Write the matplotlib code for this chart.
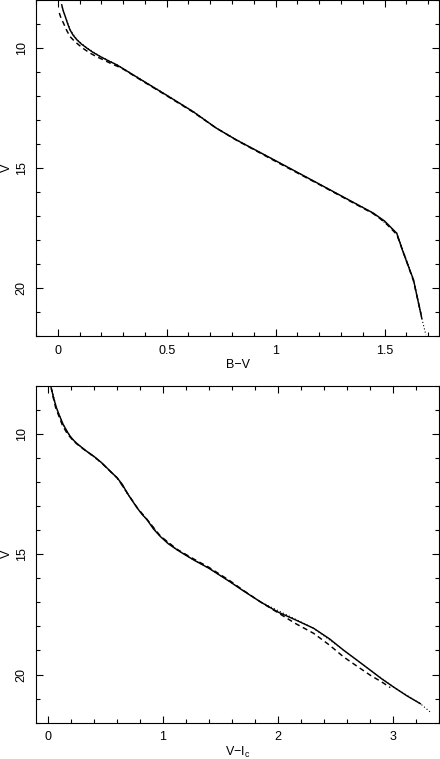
import matplotlib
matplotlib.use("Agg")
import matplotlib.pyplot as plt
from matplotlib.ticker import MultipleLocator

plt.rcParams['font.family'] = ['Liberation Sans', 'DejaVu Sans']

# ---- top panel: V vs B-V ----
bv_solid_x = [0.018, 0.025, 0.034, 0.045, 0.056, 0.07, 0.087, 0.108, 0.133, 0.16, 0.194,
              0.23, 0.271, 0.37, 0.497, 0.62, 0.727, 0.819, 1.0, 1.2, 1.449, 1.5,
              1.556, 1.587, 1.633, 1.671]
bv_solid_y = [8.2, 8.45, 8.68, 8.98, 9.24, 9.46, 9.65, 9.83, 10.0, 10.17, 10.35,
              10.52, 10.7, 11.25, 11.95, 12.64, 13.33, 13.82, 14.69, 15.66, 16.875, 17.2,
              17.71, 18.54, 19.65, 21.25]

bv_dash_x = [0.007, 0.015, 0.026, 0.04, 0.056, 0.075, 0.095, 0.12, 0.148, 0.178, 0.209,
             0.25, 0.294, 0.37, 0.497, 0.62, 0.727, 0.819, 1.0, 1.2, 1.449, 1.5, 1.556,
             1.59, 1.633, 1.668]
bv_dash_y = [8.54, 8.76, 8.96, 9.25, 9.52, 9.7, 9.86, 10.04, 10.21, 10.36, 10.49,
             10.67, 10.84, 11.27, 11.97, 12.66, 13.33, 13.83, 14.72, 15.68, 16.9, 17.24, 17.76,
             18.6, 19.7, 21.1]

bv_dot_x = [0.02, 0.034, 0.056, 0.087, 0.133, 0.194, 0.271, 0.37, 0.497, 0.62, 0.727,
            0.819, 1.0, 1.2, 1.449, 1.556, 1.633, 1.671, 1.69]
bv_dot_y = [8.3, 8.67, 9.23, 9.64, 9.99, 10.34, 10.69, 11.24, 11.94, 12.63, 13.32,
            13.81, 14.69, 15.66, 16.87, 17.7, 19.64, 21.25, 21.95]

# ---- bottom panel: V vs V-Ic ----
vi_solid_x = [0.035, 0.055, 0.078, 0.1, 0.136, 0.18, 0.2, 0.223, 0.25, 0.286, 0.339,
              0.402, 0.47, 0.547, 0.605, 0.65, 0.692, 0.735, 0.779, 0.82, 0.865, 0.92,
              0.981, 1.05, 1.126, 1.2, 1.27, 1.40, 1.583, 1.7, 1.849, 2.0, 2.15, 2.312,
              2.45, 2.572, 2.69, 2.804, 2.9, 3.006, 3.12, 3.238]
vi_solid_y = [8.15, 8.55, 8.92, 9.2, 9.61, 9.98, 10.12, 10.25, 10.38, 10.52, 10.72,
              10.93, 11.2, 11.56, 11.83, 12.1, 12.46, 12.77, 13.08, 13.34, 13.57, 13.95,
              14.27, 14.57, 14.82, 15.04, 15.24, 15.58, 16.14, 16.52, 16.98, 17.4, 17.72, 18.08,
              18.52, 18.99, 19.41, 19.82, 20.17, 20.52, 20.88, 21.21]

vi_dash_x = [0.03, 0.05, 0.07, 0.095, 0.13, 0.175, 0.2, 0.22, 0.25, 0.286, 0.339,
             0.402, 0.47, 0.547, 0.605, 0.692, 0.779, 0.865, 0.981, 1.126, 1.27, 1.40,
             1.583, 1.7, 1.849, 1.964, 2.15, 2.312, 2.45, 2.572, 2.69, 2.804, 2.9, 2.977]
vi_dash_y = [8.05, 8.5, 8.9, 9.22, 9.65, 10.02, 10.15, 10.27, 10.4, 10.54, 10.73,
             10.94, 11.21, 11.57, 11.83, 12.45, 13.07, 13.56, 14.25, 14.8, 15.2, 15.54,
             16.1, 16.5, 16.98, 17.32, 17.87, 18.29, 18.78, 19.27, 19.66, 20.03, 20.3, 20.54]

vi_dot_x = [0.04, 0.078, 0.136, 0.2, 0.25, 0.339, 0.47, 0.605, 0.692, 0.779, 0.865, 0.981,
            1.126, 1.27, 1.40, 1.583, 1.849, 2.312, 2.572, 2.804, 3.006, 3.238, 3.325]
vi_dot_y = [8.2, 8.93, 9.62, 10.13, 10.39, 10.73, 11.21, 11.84, 12.47, 13.08, 13.57, 14.27,
            14.82, 15.24, 15.58, 16.14, 16.98, 18.08, 18.99, 19.82, 20.52, 21.21, 21.56]

fig = plt.figure(figsize=(4.40, 7.59), dpi=100)
ax1 = fig.add_axes([36/440, 1 - 336.3/759, 403/440, 336.3/759])
ax2 = fig.add_axes([36/440, 1 - 722.7/759, 403/440, 337.0/759])

fs = 9
lw = 1.05
for ax, sx, sy, dx, dy, ox, oy in [
        (ax1, bv_solid_x, bv_solid_y, bv_dash_x, bv_dash_y, bv_dot_x, bv_dot_y),
        (ax2, vi_solid_x, vi_solid_y, vi_dash_x, vi_dash_y, vi_dot_x, vi_dot_y)]:
    ax.plot(ox, oy, color='black', lw=0.8, ls=(0, (1, 2)))
    ax.plot(dx, dy, color='black', lw=lw, ls=(0, (3.5, 2.5)))
    ax.plot(sx, sy, color='black', lw=lw, ls='-')
    ax.set_ylim(22, 8)
    ax.yaxis.set_major_locator(MultipleLocator(5))
    ax.yaxis.set_minor_locator(MultipleLocator(1))
    ax.tick_params(which='both', direction='in', top=True, right=True,
                   labelsize=fs, width=0.8)
    ax.tick_params(which='major', length=5, pad=6)
    ax.tick_params(which='minor', length=2.8)
    for sp in ax.spines.values():
        sp.set_linewidth(0.8)
    ax.set_ylabel('V', fontsize=fs)
    ax.yaxis.set_label_coords(-0.058, 0.5)

ax1.set_xlim(-0.1, 1.75)
ax1.set_xticks([0, 0.5, 1, 1.5])
ax1.set_xticklabels(['0', '0.5', '1', '1.5'])
ax1.xaxis.set_minor_locator(MultipleLocator(0.1))
ax1.set_xlabel('B\u2212V', fontsize=fs, labelpad=2)

ax2.set_xlim(-0.1, 3.4)
ax2.xaxis.set_major_locator(MultipleLocator(1))
ax2.xaxis.set_minor_locator(MultipleLocator(0.2))
ax2.set_xlabel('V\u2212I$_\\mathregular{c}$', fontsize=fs, labelpad=1)

for ax in (ax1, ax2):
    for lab in ax.get_yticklabels():
        lab.set_rotation(90)
        lab.set_va('center')

fig.savefig('out.png', dpi=100)
